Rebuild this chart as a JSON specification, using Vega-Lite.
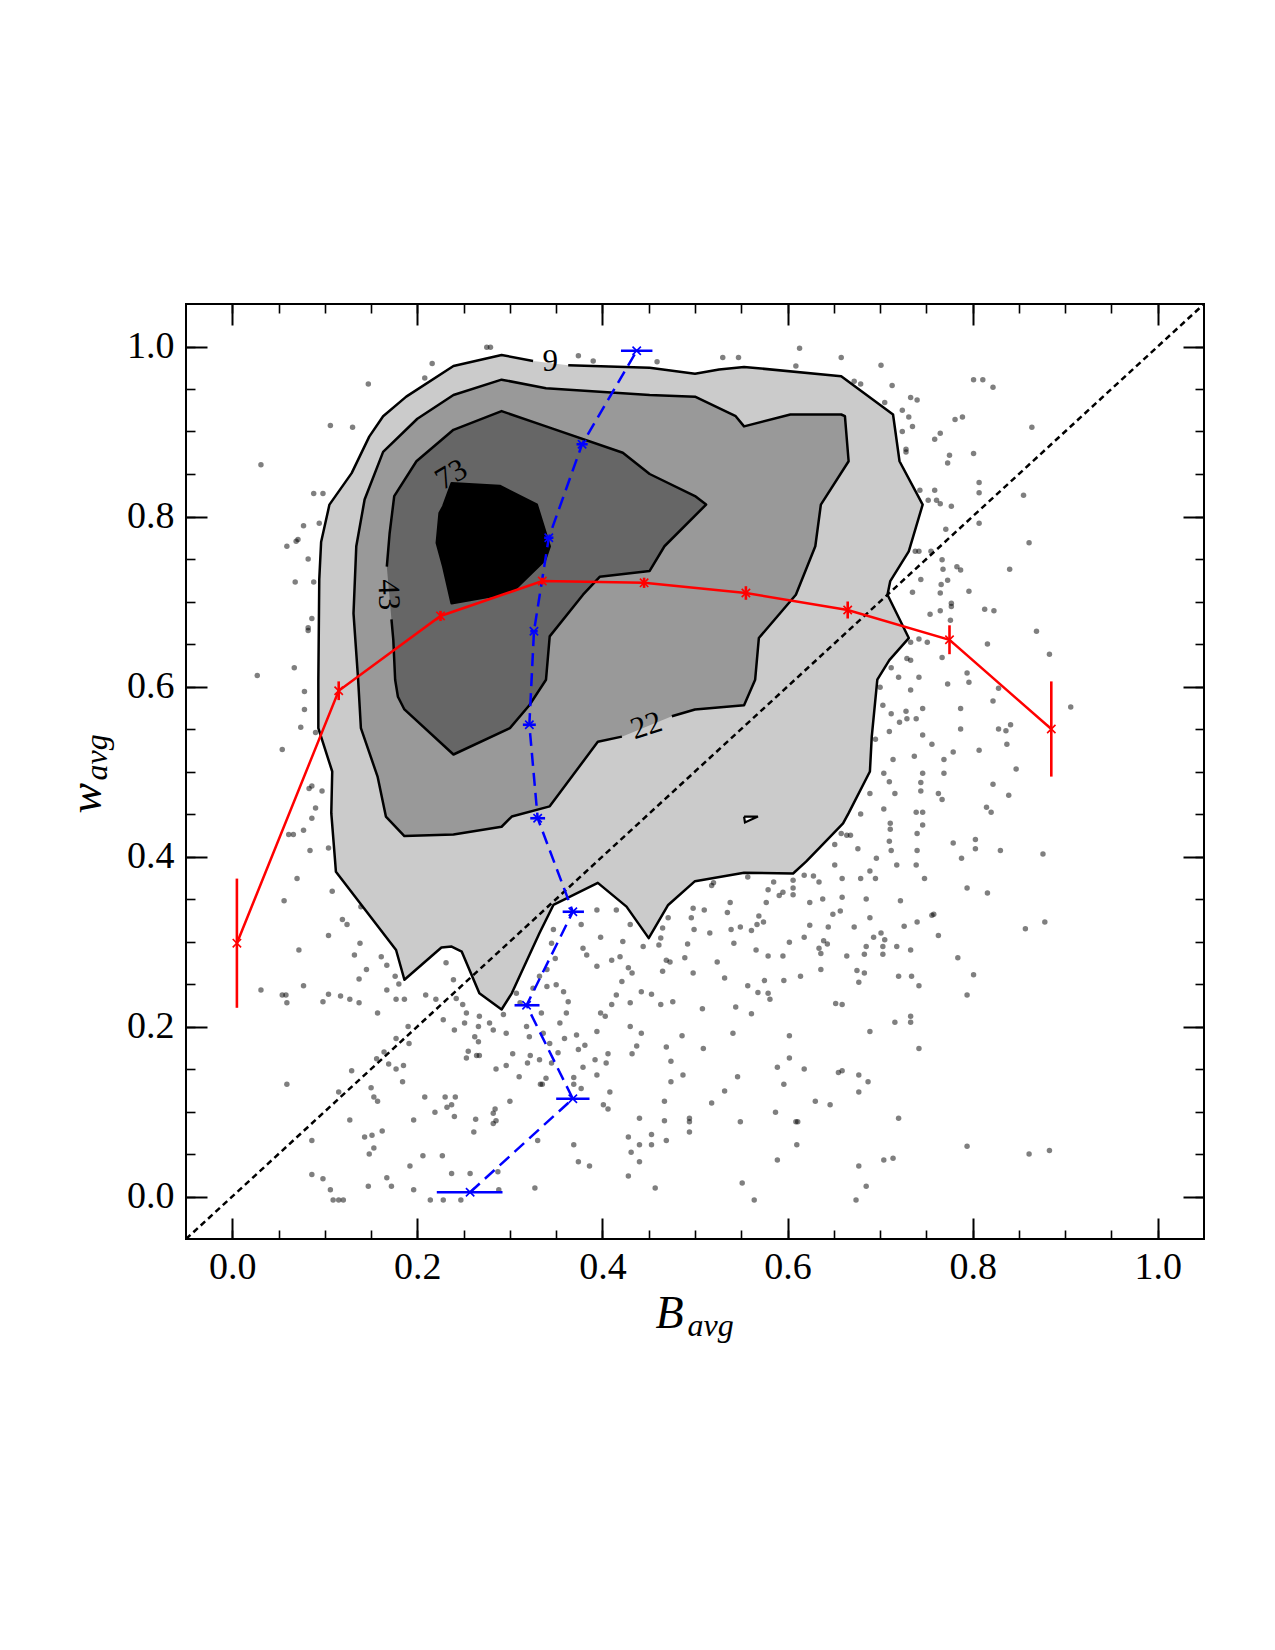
{
  "$schema": "https://vega.github.io/schema/vega-lite/v6.json",
  "width": 1018,
  "height": 935,
  "autosize": {"type": "none"},
  "padding": {"left": 186, "top": 304, "right": 71, "bottom": 411},
  "background": "white",
  "config": {"view": {"stroke": "#000", "strokeWidth": 2}, "axis": {"grid": false}},
  "resolve": {"axis": {"x": "independent", "y": "independent"}},
  "datasets": {
    "points": [
      {"B":0.078,"w":0.594},{"B":0.078,"w":0.573},{"B":0.074,"w":0.552},{"B":0.090,"w":0.546},{"B":0.054,"w":0.526},{"B":0.086,"w":0.483},{"B":0.083,"w":0.480},{"B":0.097,"w":0.477},{"B":0.090,"w":0.457},{"B":0.086,"w":0.445},{"B":0.061,"w":0.426},{"B":0.066,"w":0.426},{"B":0.077,"w":0.431},{"B":0.084,"w":0.407},{"B":0.104,"w":0.410},{"B":0.070,"w":0.374},{"B":0.119,"w":0.377},{"B":0.108,"w":0.359},{"B":0.056,"w":0.348},{"B":0.139,"w":0.341},{"B":0.119,"w":0.326},{"B":0.124,"w":0.320},{"B":0.104,"w":0.307},{"B":0.138,"w":0.298},{"B":0.072,"w":0.290},{"B":0.132,"w":0.284},{"B":0.161,"w":0.282},{"B":0.167,"w":0.272},{"B":0.145,"w":0.267},{"B":0.137,"w":0.256},{"B":0.176,"w":0.259},{"B":0.167,"w":0.243},{"B":0.180,"w":0.250},{"B":0.031,"w":0.243},{"B":0.077,"w":0.248},{"B":0.054,"w":0.237},{"B":0.058,"w":0.237},{"B":0.059,"w":0.228},{"B":0.098,"w":0.229},{"B":0.104,"w":0.238},{"B":0.117,"w":0.236},{"B":0.127,"w":0.232},{"B":0.137,"w":0.228},{"B":0.157,"w":0.216},{"B":0.177,"w":0.232},{"B":0.186,"w":0.232},{"B":0.209,"w":0.237},{"B":0.220,"w":0.232},{"B":0.190,"w":0.200},{"B":0.177,"w":0.186},{"B":0.191,"w":0.180},
      {"B":0.231,"w":0.275},{"B":0.239,"w":0.255},{"B":0.242,"w":0.233},{"B":0.228,"w":0.208},{"B":0.240,"w":0.196},{"B":0.249,"w":0.226},{"B":0.253,"w":0.216},{"B":0.251,"w":0.204},{"B":0.266,"w":0.200},{"B":0.267,"w":0.212},{"B":0.262,"w":0.188},{"B":0.266,"w":0.182},{"B":0.278,"w":0.204},{"B":0.282,"w":0.196},{"B":0.293,"w":0.214},{"B":0.296,"w":0.192},{"B":0.307,"w":0.239},{"B":0.311,"w":0.228},{"B":0.318,"w":0.200},{"B":0.321,"w":0.188},{"B":0.334,"w":0.216},{"B":0.336,"w":0.192},{"B":0.343,"w":0.180},{"B":0.352,"w":0.169},{"B":0.359,"w":0.186},{"B":0.372,"w":0.190},{"B":0.381,"w":0.178},{"B":0.374,"w":0.173},{"B":0.394,"w":0.194},{"B":0.398,"w":0.216},{"B":0.403,"w":0.212},{"B":0.410,"w":0.226},{"B":0.415,"w":0.237},{"B":0.430,"w":0.228},{"B":0.442,"w":0.241},{"B":0.430,"w":0.200},{"B":0.437,"w":0.177},{"B":0.442,"w":0.192},{"B":0.347,"w":0.314},{"B":0.345,"w":0.298},{"B":0.349,"w":0.280},{"B":0.340,"w":0.267},{"B":0.332,"w":0.259},{"B":0.325,"w":0.245},{"B":0.340,"w":0.247},{"B":0.350,"w":0.249},{"B":0.358,"w":0.241},{"B":0.363,"w":0.229},{"B":0.361,"w":0.216},{"B":0.354,"w":0.204},{"B":0.379,"w":0.292},{"B":0.383,"w":0.284},{"B":0.394,"w":0.271},{"B":0.410,"w":0.278},{"B":0.419,"w":0.282},{"B":0.428,"w":0.269},{"B":0.432,"w":0.263},{"B":0.421,"w":0.253},{"B":0.394,"w":0.337},{"B":0.415,"w":0.337},{"B":0.377,"w":0.320},{"B":0.398,"w":0.305},{"B":0.422,"w":0.300},{"B":0.430,"w":0.320},{"B":0.444,"w":0.294},
      {"B":0.147,"w":0.956},{"B":0.106,"w":0.907},{"B":0.130,"w":0.905},{"B":0.031,"w":0.861},{"B":0.088,"w":0.827},{"B":0.098,"w":0.827},{"B":0.077,"w":0.789},{"B":0.094,"w":0.792},{"B":0.071,"w":0.773},{"B":0.059,"w":0.765},{"B":0.069,"w":0.771},{"B":0.082,"w":0.750},{"B":0.068,"w":0.723},{"B":0.088,"w":0.723},{"B":0.086,"w":0.680},{"B":0.082,"w":0.669},{"B":0.082,"w":0.666},{"B":0.067,"w":0.622},{"B":0.027,"w":0.613},{"B":0.216,"w":0.980},{"B":0.208,"w":0.963},{"B":0.275,"w":0.999},{"B":0.279,"w":0.999},{"B":0.374,"w":0.989},{"B":0.390,"w":0.983},
      {"B":0.459,"w":0.982},{"B":0.530,"w":0.987},{"B":0.547,"w":0.987},{"B":0.613,"w":0.998},{"B":0.658,"w":0.987},{"B":0.609,"w":0.977},{"B":0.701,"w":0.978},{"B":0.801,"w":0.961},{"B":0.811,"w":0.961},{"B":0.822,"w":0.952},{"B":0.672,"w":0.959},{"B":0.679,"w":0.956},{"B":0.713,"w":0.954},{"B":0.733,"w":0.940},{"B":0.740,"w":0.937},{"B":0.705,"w":0.934},{"B":0.724,"w":0.925},{"B":0.731,"w":0.917},{"B":0.735,"w":0.906},{"B":0.724,"w":0.900},{"B":0.728,"w":0.879},{"B":0.728,"w":0.876},{"B":0.765,"w":0.898},{"B":0.759,"w":0.891},{"B":0.781,"w":0.914},{"B":0.789,"w":0.917},{"B":0.864,"w":0.905},{"B":0.801,"w":0.874},{"B":0.775,"w":0.872},{"B":0.773,"w":0.863},{"B":0.807,"w":0.840},{"B":0.807,"w":0.828},{"B":0.855,"w":0.825},{"B":0.743,"w":0.831},{"B":0.759,"w":0.831},{"B":0.752,"w":0.819},{"B":0.761,"w":0.819},{"B":0.765,"w":0.815},{"B":0.777,"w":0.812},{"B":0.807,"w":0.792},{"B":0.771,"w":0.785},{"B":0.861,"w":0.769},{"B":0.738,"w":0.759},{"B":0.742,"w":0.759},{"B":0.755,"w":0.759},{"B":0.767,"w":0.749},{"B":0.840,"w":0.738},{"B":0.783,"w":0.741},{"B":0.787,"w":0.737},{"B":0.768,"w":0.738},{"B":0.744,"w":0.726},{"B":0.773,"w":0.725},{"B":0.766,"w":0.720},{"B":0.735,"w":0.711},{"B":0.765,"w":0.710},{"B":0.796,"w":0.712},{"B":0.777,"w":0.698},{"B":0.777,"w":0.694},{"B":0.765,"w":0.689},{"B":0.754,"w":0.685},{"B":0.813,"w":0.691},{"B":0.823,"w":0.689},{"B":0.869,"w":0.665},{"B":0.776,"w":0.678},{"B":0.742,"w":0.656},{"B":0.751,"w":0.652},{"B":0.733,"w":0.652},{"B":0.816,"w":0.650},{"B":0.883,"w":0.638},{"B":0.729,"w":0.633},{"B":0.733,"w":0.631},{"B":0.767,"w":0.634},{"B":0.712,"w":0.622},{"B":0.794,"w":0.616},{"B":0.720,"w":0.611},{"B":0.742,"w":0.611},
      {"B":0.700,"w":0.599},{"B":0.733,"w":0.596},{"B":0.773,"w":0.603},{"B":0.796,"w":0.605},{"B":0.828,"w":0.598},{"B":0.822,"w":0.583},{"B":0.787,"w":0.574},{"B":0.703,"w":0.578},{"B":0.712,"w":0.568},{"B":0.728,"w":0.571},{"B":0.721,"w":0.558},{"B":0.729,"w":0.562},{"B":0.739,"w":0.562},{"B":0.746,"w":0.574},{"B":0.906,"w":0.576},{"B":0.710,"w":0.547},{"B":0.746,"w":0.543},{"B":0.787,"w":0.550},{"B":0.828,"w":0.550},{"B":0.836,"w":0.548},{"B":0.841,"w":0.555},{"B":0.837,"w":0.532},{"B":0.756,"w":0.532},{"B":0.807,"w":0.525},{"B":0.779,"w":0.523},{"B":0.695,"w":0.538},{"B":0.714,"w":0.514},{"B":0.737,"w":0.518},{"B":0.769,"w":0.514},{"B":0.769,"w":0.498},{"B":0.746,"w":0.498},{"B":0.704,"w":0.498},{"B":0.847,"w":0.503},{"B":0.710,"w":0.488},{"B":0.744,"w":0.487},{"B":0.744,"w":0.477},{"B":0.716,"w":0.474},{"B":0.689,"w":0.474},{"B":0.763,"w":0.474},{"B":0.767,"w":0.467},{"B":0.822,"w":0.485},{"B":0.839,"w":0.472},{"B":0.815,"w":0.458},{"B":0.820,"w":0.452},{"B":0.739,"w":0.452},{"B":0.746,"w":0.452},{"B":0.704,"w":0.456},{"B":0.679,"w":0.450},{"B":0.746,"w":0.437},{"B":0.711,"w":0.439},{"B":0.711,"w":0.432},{"B":0.740,"w":0.427},{"B":0.664,"w":0.425},{"B":0.668,"w":0.425},{"B":0.658,"w":0.427},{"B":0.710,"w":0.418},{"B":0.712,"w":0.407},{"B":0.740,"w":0.407},{"B":0.779,"w":0.416},{"B":0.803,"w":0.420},{"B":0.803,"w":0.409},{"B":0.830,"w":0.407},{"B":0.876,"w":0.403},{"B":0.788,"w":0.398},{"B":0.676,"w":0.409},{"B":0.651,"w":0.414},{"B":0.696,"w":0.398},{"B":0.651,"w":0.390},{"B":0.718,"w":0.390},{"B":0.739,"w":0.390},{"B":0.689,"w":0.383},{"B":0.748,"w":0.374},{"B":0.794,"w":0.363},{"B":0.816,"w":0.357},{"B":0.679,"w":0.374},{"B":0.695,"w":0.374},{"B":0.659,"w":0.374},{"B":0.618,"w":0.378},{"B":0.628,"w":0.377},{"B":0.634,"w":0.370},{"B":0.606,"w":0.372},{"B":0.606,"w":0.363},{"B":0.606,"w":0.355},{"B":0.585,"w":0.370},{"B":0.579,"w":0.361},{"B":0.595,"w":0.358},{"B":0.591,"w":0.354},{"B":0.557,"w":0.376},{"B":0.520,"w":0.369},{"B":0.518,"w":0.366},{"B":0.498,"w":0.339},{"B":0.510,"w":0.337},{"B":0.538,"w":0.346},{"B":0.535,"w":0.334},{"B":0.577,"w":0.346},{"B":0.624,"w":0.346},{"B":0.638,"w":0.350},{"B":0.659,"w":0.352},{"B":0.685,"w":0.350},{"B":0.722,"w":0.348},{"B":0.649,"w":0.332},{"B":0.657,"w":0.336},{"B":0.689,"w":0.328},{"B":0.756,"w":0.331},{"B":0.758,"w":0.332},{"B":0.726,"w":0.318},{"B":0.740,"w":0.323},{"B":0.672,"w":0.317},{"B":0.624,"w":0.319},{"B":0.644,"w":0.317},{"B":0.569,"w":0.330},{"B":0.574,"w":0.323},{"B":0.567,"w":0.320},{"B":0.549,"w":0.317},{"B":0.561,"w":0.313},{"B":0.539,"w":0.314},{"B":0.516,"w":0.310},{"B":0.499,"w":0.314},{"B":0.496,"w":0.328},{"B":0.471,"w":0.328},{"B":0.465,"w":0.316},{"B":0.463,"w":0.304},{"B":0.461,"w":0.296},{"B":0.469,"w":0.278},{"B":0.473,"w":0.276},{"B":0.489,"w":0.281},{"B":0.492,"w":0.297},{"B":0.524,"w":0.276},{"B":0.542,"w":0.298},{"B":0.566,"w":0.290},{"B":0.579,"w":0.283},{"B":0.595,"w":0.283},{"B":0.602,"w":0.299},{"B":0.618,"w":0.305},{"B":0.634,"w":0.292},{"B":0.636,"w":0.286},{"B":0.639,"w":0.301},{"B":0.643,"w":0.297},{"B":0.664,"w":0.283},{"B":0.683,"w":0.285},{"B":0.685,"w":0.294},{"B":0.693,"w":0.305},{"B":0.701,"w":0.310},{"B":0.705,"w":0.302},{"B":0.703,"w":0.294},{"B":0.718,"w":0.294},{"B":0.703,"w":0.285},{"B":0.733,"w":0.290},{"B":0.763,"w":0.307},{"B":0.784,"w":0.281},{"B":0.465,"w":0.265},{"B":0.498,"w":0.263},{"B":0.532,"w":0.257},{"B":0.557,"w":0.248},{"B":0.568,"w":0.240},{"B":0.579,"w":0.239},{"B":0.581,"w":0.232},{"B":0.575,"w":0.254},{"B":0.596,"w":0.254},{"B":0.614,"w":0.259},{"B":0.636,"w":0.267},{"B":0.675,"w":0.266},{"B":0.683,"w":0.263},{"B":0.677,"w":0.252},{"B":0.720,"w":0.259},{"B":0.734,"w":0.259},{"B":0.742,"w":0.248},{"B":0.801,"w":0.261},{"B":0.794,"w":0.237},{"B":0.453,"w":0.238},{"B":0.463,"w":0.226},{"B":0.476,"w":0.229},{"B":0.508,"w":0.221},{"B":0.544,"w":0.223},{"B":0.561,"w":0.215},{"B":0.652,"w":0.227},{"B":0.659,"w":0.226},{"B":0.716,"w":0.205},{"B":0.733,"w":0.212},{"B":0.733,"w":0.205},{"B":0.689,"w":0.194},{"B":0.486,"w":0.189},{"B":0.541,"w":0.192},{"B":0.602,"w":0.189},{"B":0.469,"w":0.176},{"B":0.509,"w":0.174},{"B":0.742,"w":0.174},{"B":0.857,"w":0.315},{"B":0.878,"w":0.323},
      {"B":0.059,"w":0.132},{"B":0.086,"w":0.066},{"B":0.098,"w":0.021},{"B":0.086,"w":0.026},{"B":0.106,"w":0.008},{"B":0.109,"w":-0.004},{"B":0.115,"w":-0.004},{"B":0.120,"w":-0.004},{"B":0.127,"w":0.090},{"B":0.129,"w":0.148},{"B":0.115,"w":0.123},{"B":0.147,"w":0.012},{"B":0.148,"w":0.050},{"B":0.150,"w":0.128},{"B":0.153,"w":0.117},{"B":0.157,"w":0.112},{"B":0.162,"w":0.077},{"B":0.153,"w":0.057},{"B":0.151,"w":0.072},{"B":0.143,"w":0.070},{"B":0.167,"w":0.022},{"B":0.172,"w":0.012},{"B":0.169,"w":0.156},{"B":0.177,"w":0.150},{"B":0.185,"w":0.154},{"B":0.184,"w":0.135},{"B":0.164,"w":0.170},{"B":0.156,"w":0.162},{"B":0.196,"w":0.008},{"B":0.192,"w":0.036},{"B":0.196,"w":0.090},{"B":0.206,"w":0.048},{"B":0.208,"w":0.117},{"B":0.219,"w":0.099},{"B":0.227,"w":0.048},{"B":0.230,"w":0.117},{"B":0.232,"w":0.105},{"B":0.237,"w":0.108},{"B":0.241,"w":0.117},{"B":0.240,"w":0.094},{"B":0.237,"w":0.027},{"B":0.247,"w":-0.004},{"B":0.214,"w":-0.004},{"B":0.228,"w":-0.004},{"B":0.257,"w":0.027},{"B":0.263,"w":0.091},{"B":0.261,"w":0.076},{"B":0.253,"w":0.163},{"B":0.255,"w":0.171},{"B":0.264,"w":0.166},{"B":0.267,"w":0.166},{"B":0.282,"w":0.098},{"B":0.284,"w":0.103},{"B":0.282,"w":0.086},{"B":0.285,"w":0.089},{"B":0.285,"w":0.150},{"B":0.287,"w":0.029},{"B":0.288,"w":0.008},{"B":0.296,"w":0.154},{"B":0.300,"w":0.112},{"B":0.303,"w":0.168},{"B":0.310,"w":0.141},{"B":0.319,"w":0.157},{"B":0.322,"w":0.166},{"B":0.327,"w":0.010},{"B":0.330,"w":0.066},{"B":0.333,"w":0.132},{"B":0.335,"w":0.132},{"B":0.339,"w":0.139},{"B":0.332,"w":0.161},{"B":0.345,"w":0.157},{"B":0.369,"w":0.140},{"B":0.369,"w":0.132},{"B":0.377,"w":0.127},{"B":0.379,"w":0.152},{"B":0.369,"w":0.061},{"B":0.374,"w":0.041},{"B":0.386,"w":0.036},{"B":0.392,"w":0.161},{"B":0.394,"w":0.143},{"B":0.404,"w":0.157},{"B":0.406,"w":0.168},{"B":0.408,"w":0.123},{"B":0.401,"w":0.108},{"B":0.406,"w":0.103},{"B":0.428,"w":0.070},{"B":0.428,"w":0.024},{"B":0.431,"w":0.052},{"B":0.440,"w":0.061},{"B":0.440,"w":0.041},{"B":0.440,"w":0.092},{"B":0.432,"w":0.168},
      {"B":0.474,"w":0.159},{"B":0.487,"w":0.143},{"B":0.474,"w":0.135},{"B":0.467,"w":0.112},{"B":0.467,"w":0.089},{"B":0.469,"w":0.066},{"B":0.453,"w":0.073},{"B":0.453,"w":0.061},{"B":0.457,"w":0.010},{"B":0.494,"w":0.092},{"B":0.494,"w":0.088},{"B":0.494,"w":0.076},{"B":0.518,"w":0.110},{"B":0.532,"w":0.124},{"B":0.546,"w":0.141},{"B":0.549,"w":0.088},{"B":0.551,"w":0.016},{"B":0.564,"w":-0.004},{"B":0.589,"w":0.152},{"B":0.602,"w":0.163},{"B":0.596,"w":0.132},{"B":0.618,"w":0.150},{"B":0.587,"w":0.099},{"B":0.609,"w":0.088},{"B":0.611,"w":0.088},{"B":0.589,"w":0.043},{"B":0.610,"w":0.061},{"B":0.630,"w":0.112},{"B":0.646,"w":0.108},{"B":0.655,"w":0.146},{"B":0.659,"w":0.148},{"B":0.677,"w":0.143},{"B":0.677,"w":0.123},{"B":0.687,"w":0.135},{"B":0.720,"w":0.092},{"B":0.677,"w":0.036},{"B":0.685,"w":0.012},{"B":0.674,"w":-0.004},{"B":0.704,"w":0.043},{"B":0.714,"w":0.045},{"B":0.794,"w":0.059},{"B":0.861,"w":0.050},{"B":0.883,"w":0.054}
    ],
    "c9": [
      {"i":0,"B":0.363,"w":0.978},{"i":1,"B":0.451,"w":0.975},{"i":2,"B":0.500,"w":0.968},{"i":3,"B":0.526,"w":0.973},{"i":4,"B":0.553,"w":0.976},{"i":5,"B":0.658,"w":0.965},{"i":6,"B":0.714,"w":0.920},{"i":7,"B":0.721,"w":0.865},{"i":8,"B":0.746,"w":0.814},{"i":9,"B":0.731,"w":0.759},{"i":10,"B":0.711,"w":0.724},{"i":11,"B":0.708,"w":0.708},{"i":12,"B":0.731,"w":0.657},{"i":13,"B":0.710,"w":0.631},{"i":14,"B":0.697,"w":0.608},{"i":15,"B":0.691,"w":0.541},{"i":16,"B":0.689,"w":0.500},{"i":17,"B":0.666,"w":0.451},{"i":18,"B":0.660,"w":0.439},{"i":19,"B":0.636,"w":0.412},{"i":20,"B":0.620,"w":0.394},{"i":21,"B":0.606,"w":0.380},{"i":22,"B":0.553,"w":0.381},{"i":23,"B":0.500,"w":0.371},{"i":24,"B":0.471,"w":0.343},{"i":25,"B":0.450,"w":0.304},{"i":26,"B":0.426,"w":0.341},{"i":27,"B":0.395,"w":0.369},{"i":28,"B":0.347,"w":0.343},{"i":29,"B":0.332,"w":0.310},{"i":30,"B":0.302,"w":0.239},{"i":31,"B":0.291,"w":0.220},{"i":32,"B":0.267,"w":0.239},{"i":33,"B":0.248,"w":0.288},{"i":34,"B":0.237,"w":0.294},{"i":35,"B":0.226,"w":0.293},{"i":36,"B":0.186,"w":0.255},{"i":37,"B":0.177,"w":0.290},{"i":38,"B":0.112,"w":0.382},{"i":39,"B":0.111,"w":0.396},{"i":40,"B":0.107,"w":0.451},{"i":41,"B":0.108,"w":0.500},{"i":42,"B":0.093,"w":0.551},{"i":43,"B":0.093,"w":0.608},{"i":44,"B":0.094,"w":0.726},{"i":45,"B":0.096,"w":0.770},{"i":46,"B":0.105,"w":0.814},{"i":47,"B":0.129,"w":0.851},{"i":48,"B":0.148,"w":0.894},{"i":49,"B":0.163,"w":0.918},{"i":50,"B":0.188,"w":0.941},{"i":51,"B":0.239,"w":0.977},{"i":52,"B":0.291,"w":0.990},{"i":53,"B":0.325,"w":0.983}
    ],
    "c22": [
      {"i":0,"B":0.475,"w":0.565},{"i":1,"B":0.500,"w":0.573},{"i":2,"B":0.553,"w":0.578},{"i":3,"B":0.565,"w":0.608},{"i":4,"B":0.569,"w":0.657},{"i":5,"B":0.609,"w":0.708},{"i":6,"B":0.630,"w":0.765},{"i":7,"B":0.636,"w":0.814},{"i":8,"B":0.666,"w":0.865},{"i":9,"B":0.662,"w":0.918},{"i":10,"B":0.658,"w":0.920},{"i":11,"B":0.603,"w":0.920},{"i":12,"B":0.553,"w":0.906},{"i":13,"B":0.544,"w":0.918},{"i":14,"B":0.500,"w":0.941},{"i":15,"B":0.451,"w":0.943},{"i":16,"B":0.339,"w":0.951},{"i":17,"B":0.291,"w":0.961},{"i":18,"B":0.239,"w":0.943},{"i":19,"B":0.200,"w":0.915},{"i":20,"B":0.163,"w":0.876},{"i":21,"B":0.143,"w":0.820},{"i":22,"B":0.134,"w":0.765},{"i":23,"B":0.131,"w":0.686},{"i":24,"B":0.136,"w":0.608},{"i":25,"B":0.139,"w":0.551},{"i":26,"B":0.157,"w":0.494},{"i":27,"B":0.166,"w":0.447},{"i":28,"B":0.186,"w":0.424},{"i":29,"B":0.239,"w":0.426},{"i":30,"B":0.291,"w":0.435},{"i":31,"B":0.302,"w":0.447},{"i":32,"B":0.343,"w":0.459},{"i":33,"B":0.395,"w":0.535},{"i":34,"B":0.421,"w":0.541}
    ],
    "c43": [
      {"i":0,"B":0.172,"w":0.679},{"i":1,"B":0.174,"w":0.655},{"i":2,"B":0.176,"w":0.608},{"i":3,"B":0.179,"w":0.588},{"i":4,"B":0.186,"w":0.573},{"i":5,"B":0.239,"w":0.520},{"i":6,"B":0.300,"w":0.551},{"i":7,"B":0.321,"w":0.578},{"i":8,"B":0.339,"w":0.608},{"i":9,"B":0.343,"w":0.659},{"i":10,"B":0.379,"w":0.708},{"i":11,"B":0.397,"w":0.729},{"i":12,"B":0.451,"w":0.736},{"i":13,"B":0.467,"w":0.765},{"i":14,"B":0.512,"w":0.814},{"i":15,"B":0.500,"w":0.824},{"i":16,"B":0.451,"w":0.850},{"i":17,"B":0.422,"w":0.875},{"i":18,"B":0.339,"w":0.906},{"i":19,"B":0.291,"w":0.924},{"i":20,"B":0.239,"w":0.902},{"i":21,"B":0.199,"w":0.865},{"i":22,"B":0.175,"w":0.824},{"i":23,"B":0.170,"w":0.780},{"i":24,"B":0.167,"w":0.741}
    ],
    "c73": [
      {"i":0,"B":0.228,"w":0.812},{"i":1,"B":0.237,"w":0.839},{"i":2,"B":0.289,"w":0.836},{"i":3,"B":0.329,"w":0.814},{"i":4,"B":0.343,"w":0.765},{"i":5,"B":0.338,"w":0.749},{"i":6,"B":0.305,"w":0.714},{"i":7,"B":0.289,"w":0.708},{"i":8,"B":0.237,"w":0.698},{"i":9,"B":0.228,"w":0.741},{"i":10,"B":0.221,"w":0.769},{"i":11,"B":0.224,"w":0.804},{"i":12,"B":0.228,"w":0.812}
    ],
    "hole": [
      {"i":0,"B":0.553,"w":0.447},{"i":1,"B":0.568,"w":0.447},{"i":2,"B":0.554,"w":0.440},{"i":3,"B":0.553,"w":0.447}
    ],
    "wBins": [
      {"B":0.005,"w":0.298,"lo":0.222,"hi":0.374},
      {"B":0.115,"w":0.595,"lo":0.584,"hi":0.606},
      {"B":0.225,"w":0.683,"lo":0.677,"hi":0.689},
      {"B":0.335,"w":0.724,"lo":0.720,"hi":0.728},
      {"B":0.445,"w":0.722,"lo":0.716,"hi":0.728},
      {"B":0.555,"w":0.710,"lo":0.702,"hi":0.718},
      {"B":0.665,"w":0.690,"lo":0.680,"hi":0.700},
      {"B":0.775,"w":0.655,"lo":0.638,"hi":0.672},
      {"B":0.885,"w":0.550,"lo":0.494,"hi":0.606}
    ],
    "bBins": [
      {"B":0.257,"w":0.005,"lo":0.221,"hi":0.292},
      {"B":0.368,"w":0.115,"lo":0.350,"hi":0.386},
      {"B":0.318,"w":0.225,"lo":0.305,"hi":0.332},
      {"B":0.368,"w":0.335,"lo":0.357,"hi":0.380},
      {"B":0.330,"w":0.445,"lo":0.322,"hi":0.338},
      {"B":0.321,"w":0.555,"lo":0.314,"hi":0.328},
      {"B":0.326,"w":0.665,"lo":0.322,"hi":0.330},
      {"B":0.342,"w":0.775,"lo":0.337,"hi":0.347},
      {"B":0.378,"w":0.885,"lo":0.372,"hi":0.384},
      {"B":0.437,"w":0.995,"lo":0.420,"hi":0.454}
    ]
  },
  "layer": [
    {
      "data": {"name": "points"},
      "mark": {"type": "circle", "color": "#000", "opacity": 0.5, "size": 30},
      "encoding": {
        "x": {"field": "B", "type": "quantitative", "scale": {"domain": [-0.05, 1.05], "nice": false, "zero": false},
          "axis": {"orient": "bottom", "values": [0, 0.2, 0.4, 0.6, 0.8, 1], "format": ".1f", "ticks": false, "domain": false, "labelFont": "Liberation Serif", "labelFontSize": 38, "labelColor": "#000", "labelPadding": 9, "labelFlush": false, "labelOverlap": false, "title": "B", "titleFont": "Liberation Serif", "titleFontSize": 46, "titleFontStyle": "italic", "titleFontWeight": "normal", "titleColor": "#000", "titleAlign": "left", "titleBaseline": "alphabetic", "titleX": 469, "titleY": 88}},
        "y": {"field": "w", "type": "quantitative", "scale": {"domain": [-0.05, 1.05], "nice": false, "zero": false},
          "axis": {"orient": "left", "values": [0, 0.2, 0.4, 0.6, 0.8, 1], "format": ".1f", "ticks": false, "domain": false, "labelFont": "Liberation Serif", "labelFontSize": 38, "labelColor": "#000", "labelPadding": 12, "labelFlush": false, "labelOverlap": false, "title": "w", "titleFont": "Liberation Serif", "titleFontSize": 46, "titleFontStyle": "italic", "titleFontWeight": "normal", "titleColor": "#000", "titleAngle": 270, "titleAlign": "left", "titleBaseline": "alphabetic", "titleX": -86, "titleY": 509}}
      }
    },
    {
      "data": {"name": "c9"},
      "mark": {"type": "line", "fill": "#cbcbcb", "stroke": "#000", "strokeWidth": 2.5, "strokeJoin": "round"},
      "encoding": {
        "x": {"field": "B", "type": "quantitative", "scale": {"domain": [-0.05, 1.05], "nice": false, "zero": false},
          "axis": {"orient": "bottom", "values": [0, 0.2, 0.4, 0.6, 0.8, 1], "labels": false, "domain": false, "ticks": true, "tickSize": 21, "tickWidth": 2, "tickColor": "#000", "offset": -21, "zindex": 2, "title": "avg", "titleFont": "Liberation Serif", "titleFontSize": 32, "titleFontStyle": "italic", "titleFontWeight": "normal", "titleColor": "#000", "titleAlign": "left", "titleBaseline": "alphabetic", "titleX": 501, "titleY": 117}},
        "y": {"field": "w", "type": "quantitative", "scale": {"domain": [-0.05, 1.05], "nice": false, "zero": false},
          "axis": {"orient": "left", "values": [0, 0.2, 0.4, 0.6, 0.8, 1], "labels": false, "domain": false, "ticks": true, "tickSize": 21, "tickWidth": 2, "tickColor": "#000", "offset": -21, "zindex": 2, "title": "avg", "titleFont": "Liberation Serif", "titleFontSize": 32, "titleFontStyle": "italic", "titleFontWeight": "normal", "titleColor": "#000", "titleAngle": 270, "titleAlign": "left", "titleBaseline": "alphabetic", "titleX": -101, "titleY": 476}},
        "order": {"field": "i", "type": "quantitative"}
      }
    },
    {
      "data": {"name": "c22"},
      "mark": {"type": "line", "fill": "#999999", "stroke": "#000", "strokeWidth": 2.5, "strokeJoin": "round"},
      "encoding": {
        "x": {"field": "B", "type": "quantitative", "scale": {"domain": [-0.05, 1.05], "nice": false, "zero": false},
          "axis": {"orient": "bottom", "values": [0, 0.05, 0.1, 0.15, 0.2, 0.25, 0.3, 0.35, 0.4, 0.45, 0.5, 0.55, 0.6, 0.65, 0.7, 0.75, 0.8, 0.85, 0.9, 0.95, 1], "labels": false, "domain": false, "ticks": true, "tickSize": 9, "tickWidth": 1.6, "tickColor": "#000", "offset": -9, "zindex": 2, "title": null}},
        "y": {"field": "w", "type": "quantitative", "scale": {"domain": [-0.05, 1.05], "nice": false, "zero": false},
          "axis": {"orient": "left", "values": [0, 0.05, 0.1, 0.15, 0.2, 0.25, 0.3, 0.35, 0.4, 0.45, 0.5, 0.55, 0.6, 0.65, 0.7, 0.75, 0.8, 0.85, 0.9, 0.95, 1], "labels": false, "domain": false, "ticks": true, "tickSize": 9, "tickWidth": 1.6, "tickColor": "#000", "offset": -9, "zindex": 2, "title": null}},
        "order": {"field": "i", "type": "quantitative"}
      }
    },
    {
      "data": {"name": "c43"},
      "mark": {"type": "line", "fill": "#666666", "stroke": "#000", "strokeWidth": 2.5, "strokeJoin": "round"},
      "encoding": {
        "x": {"field": "B", "type": "quantitative", "scale": {"domain": [-0.05, 1.05], "nice": false, "zero": false},
          "axis": {"orient": "top", "values": [0, 0.2, 0.4, 0.6, 0.8, 1], "labels": false, "domain": false, "ticks": true, "tickSize": 21, "tickWidth": 2, "tickColor": "#000", "offset": -21, "zindex": 2, "title": null}},
        "y": {"field": "w", "type": "quantitative", "scale": {"domain": [-0.05, 1.05], "nice": false, "zero": false},
          "axis": {"orient": "right", "values": [0, 0.2, 0.4, 0.6, 0.8, 1], "labels": false, "domain": false, "ticks": true, "tickSize": 21, "tickWidth": 2, "tickColor": "#000", "offset": -21, "zindex": 2, "title": null}},
        "order": {"field": "i", "type": "quantitative"}
      }
    },
    {
      "data": {"name": "c73"},
      "mark": {"type": "line", "fill": "#000000", "stroke": "#000", "strokeWidth": 2.5, "strokeJoin": "round"},
      "encoding": {
        "x": {"field": "B", "type": "quantitative", "scale": {"domain": [-0.05, 1.05], "nice": false, "zero": false},
          "axis": {"orient": "top", "values": [0, 0.05, 0.1, 0.15, 0.2, 0.25, 0.3, 0.35, 0.4, 0.45, 0.5, 0.55, 0.6, 0.65, 0.7, 0.75, 0.8, 0.85, 0.9, 0.95, 1], "labels": false, "domain": false, "ticks": true, "tickSize": 9, "tickWidth": 1.6, "tickColor": "#000", "offset": -9, "zindex": 2, "title": null}},
        "y": {"field": "w", "type": "quantitative", "scale": {"domain": [-0.05, 1.05], "nice": false, "zero": false},
          "axis": {"orient": "right", "values": [0, 0.05, 0.1, 0.15, 0.2, 0.25, 0.3, 0.35, 0.4, 0.45, 0.5, 0.55, 0.6, 0.65, 0.7, 0.75, 0.8, 0.85, 0.9, 0.95, 1], "labels": false, "domain": false, "ticks": true, "tickSize": 9, "tickWidth": 1.6, "tickColor": "#000", "offset": -9, "zindex": 2, "title": null}},
        "order": {"field": "i", "type": "quantitative"}
      }
    },
    {
      "data": {"name": "hole"},
      "mark": {"type": "line", "fill": "#ffffff", "stroke": "#000", "strokeWidth": 2.2, "strokeJoin": "miter"},
      "encoding": {
        "x": {"field": "B", "type": "quantitative", "scale": {"domain": [-0.05, 1.05], "nice": false, "zero": false}, "axis": null},
        "y": {"field": "w", "type": "quantitative", "scale": {"domain": [-0.05, 1.05], "nice": false, "zero": false}, "axis": null},
        "order": {"field": "i", "type": "quantitative"}
      }
    },
    {
      "data": {"values": [{"B": -0.05, "w": -0.05}, {"B": 1.05, "w": 1.05}]},
      "mark": {"type": "line", "color": "#000", "strokeWidth": 2.5, "strokeDash": [6, 4]},
      "encoding": {
        "x": {"field": "B", "type": "quantitative", "scale": {"domain": [-0.05, 1.05], "nice": false, "zero": false}, "axis": null},
        "y": {"field": "w", "type": "quantitative", "scale": {"domain": [-0.05, 1.05], "nice": false, "zero": false}, "axis": null}
      }
    },
    {
      "data": {"values": [{"B": 0.3437, "w": 0.9812, "level": "9"}]},
      "mark": {"type": "text", "font": "Liberation Serif", "fontSize": 31, "color": "#000", "align": "center", "baseline": "middle", "angle": 0},
      "encoding": {
        "x": {"field": "B", "type": "quantitative", "scale": {"domain": [-0.05, 1.05], "nice": false, "zero": false}, "axis": null},
        "y": {"field": "w", "type": "quantitative", "scale": {"domain": [-0.05, 1.05], "nice": false, "zero": false}, "axis": null},
        "text": {"field": "level"}
      }
    },
    {
      "data": {"values": [{"B": 0.4476, "w": 0.5534, "level": "22"}]},
      "mark": {"type": "text", "font": "Liberation Serif", "fontSize": 31, "color": "#000", "align": "center", "baseline": "middle", "angle": 342},
      "encoding": {
        "x": {"field": "B", "type": "quantitative", "scale": {"domain": [-0.05, 1.05], "nice": false, "zero": false}, "axis": null},
        "y": {"field": "w", "type": "quantitative", "scale": {"domain": [-0.05, 1.05], "nice": false, "zero": false}, "axis": null},
        "text": {"field": "level"}
      }
    },
    {
      "data": {"values": [{"B": 0.1682, "w": 0.7079, "level": "43"}]},
      "mark": {"type": "text", "font": "Liberation Serif", "fontSize": 31, "color": "#000", "align": "center", "baseline": "middle", "angle": 88},
      "encoding": {
        "x": {"field": "B", "type": "quantitative", "scale": {"domain": [-0.05, 1.05], "nice": false, "zero": false}, "axis": null},
        "y": {"field": "w", "type": "quantitative", "scale": {"domain": [-0.05, 1.05], "nice": false, "zero": false}, "axis": null},
        "text": {"field": "level"}
      }
    },
    {
      "data": {"values": [{"B": 0.2368, "w": 0.849, "level": "73"}]},
      "mark": {"type": "text", "font": "Liberation Serif", "fontSize": 31, "color": "#000", "align": "center", "baseline": "middle", "angle": 330},
      "encoding": {
        "x": {"field": "B", "type": "quantitative", "scale": {"domain": [-0.05, 1.05], "nice": false, "zero": false}, "axis": null},
        "y": {"field": "w", "type": "quantitative", "scale": {"domain": [-0.05, 1.05], "nice": false, "zero": false}, "axis": null},
        "text": {"field": "level"}
      }
    },
    {
      "data": {"name": "bBins"},
      "mark": {"type": "line", "color": "#0000ff", "strokeWidth": 2.5, "strokeDash": [13, 7]},
      "encoding": {
        "x": {"field": "B", "type": "quantitative", "scale": {"domain": [-0.05, 1.05], "nice": false, "zero": false}, "axis": null},
        "y": {"field": "w", "type": "quantitative", "scale": {"domain": [-0.05, 1.05], "nice": false, "zero": false}, "axis": null},
        "order": {"field": "w", "type": "quantitative"}
      }
    },
    {
      "data": {"name": "bBins"},
      "mark": {"type": "rule", "color": "#0000ff", "strokeWidth": 2.6},
      "encoding": {
        "x": {"field": "lo", "type": "quantitative", "scale": {"domain": [-0.05, 1.05], "nice": false, "zero": false}, "axis": null},
        "x2": {"field": "hi"},
        "y": {"field": "w", "type": "quantitative", "scale": {"domain": [-0.05, 1.05], "nice": false, "zero": false}, "axis": null}
      }
    },
    {
      "data": {"name": "bBins"},
      "mark": {"type": "point", "shape": "M-1,-1L1,1M-1,1L1,-1", "filled": false, "color": "#0000ff", "strokeWidth": 1.6, "size": 70, "opacity": 1},
      "encoding": {
        "x": {"field": "B", "type": "quantitative", "scale": {"domain": [-0.05, 1.05], "nice": false, "zero": false}, "axis": null},
        "y": {"field": "w", "type": "quantitative", "scale": {"domain": [-0.05, 1.05], "nice": false, "zero": false}, "axis": null}
      }
    },
    {
      "data": {"name": "wBins"},
      "mark": {"type": "line", "color": "#ff0000", "strokeWidth": 2.5},
      "encoding": {
        "x": {"field": "B", "type": "quantitative", "scale": {"domain": [-0.05, 1.05], "nice": false, "zero": false}, "axis": null},
        "y": {"field": "w", "type": "quantitative", "scale": {"domain": [-0.05, 1.05], "nice": false, "zero": false}, "axis": null}
      }
    },
    {
      "data": {"name": "wBins"},
      "mark": {"type": "rule", "color": "#ff0000", "strokeWidth": 2.6},
      "encoding": {
        "x": {"field": "B", "type": "quantitative", "scale": {"domain": [-0.05, 1.05], "nice": false, "zero": false}, "axis": null},
        "y": {"field": "lo", "type": "quantitative", "scale": {"domain": [-0.05, 1.05], "nice": false, "zero": false}, "axis": null},
        "y2": {"field": "hi"}
      }
    },
    {
      "data": {"name": "wBins"},
      "mark": {"type": "point", "shape": "M-1,-1L1,1M-1,1L1,-1", "filled": false, "color": "#ff0000", "strokeWidth": 1.6, "size": 70, "opacity": 1},
      "encoding": {
        "x": {"field": "B", "type": "quantitative", "scale": {"domain": [-0.05, 1.05], "nice": false, "zero": false}, "axis": null},
        "y": {"field": "w", "type": "quantitative", "scale": {"domain": [-0.05, 1.05], "nice": false, "zero": false}, "axis": null}
      }
    }
  ]
}
